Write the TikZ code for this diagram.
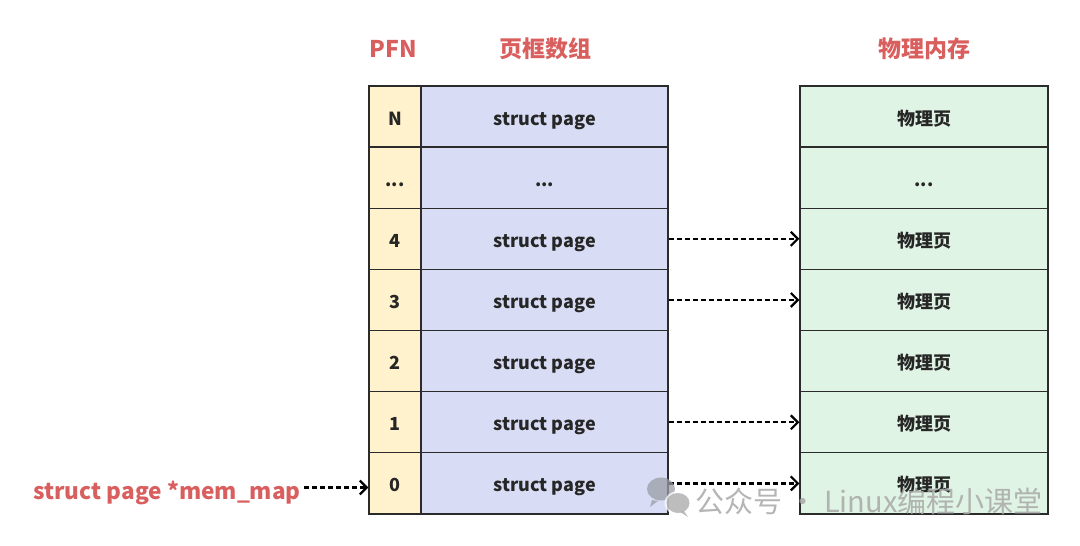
\documentclass[tikz,border=0pt]{standalone}
\usepackage{fontspec}
\setmainfont{Noto Sans CJK SC}
\usetikzlibrary{arrows.meta}
\definecolor{titlered}{HTML}{D95F5F}
\definecolor{pfnfill}{HTML}{FFF2CC}
\definecolor{pagefill}{HTML}{D8DDF5}
\definecolor{physfill}{HTML}{DFF4E4}
\definecolor{edge}{HTML}{2B2B2B}
\definecolor{wmgray}{HTML}{A8A8A8}
\definecolor{wmdark}{HTML}{9A9CA6}
\newcommand{\myellip}{...}
\tikzset{
  cell/.style={draw=edge, line width=1.3pt, minimum height=61.14pt, inner sep=0pt, text height=17pt, text depth=0pt, font=\fontsize{18}{20}\selectfont\bfseries, text=black!85},
  pfncell/.style={cell, fill=pfnfill, minimum width=52pt},
  pagecell/.style={cell, fill=pagefill, minimum width=247pt},
  physcell/.style={cell, fill=physfill, minimum width=248pt},
  title/.style={font=\fontsize{23}{26}\selectfont\bfseries, text=titlered, anchor=base},
  ptr/.style={line width=2.4pt, dash pattern=on 5pt off 3pt, -{Straight Barb[length=7pt,width=14pt,line width=2.2pt]}}
}
\begin{document}
\begin{tikzpicture}[x=1pt,y=-1pt]
\useasboundingbox (0,0) rectangle (1080,546);
% titles
\node[title] (tpfn) at (393,57) {PFN};
\node[title] (tarr) at (545,57) {页框数组};
\node[title] (tmem) at (924,57) {物理内存};
% rows
\foreach \i/\lab/\plab/\glab in {0/N/物理页/struct page, 1/\myellip/\myellip/\myellip, 2/4/物理页/struct page, 3/3/物理页/struct page, 4/2/物理页/struct page, 5/1/物理页/struct page, 6/0/物理页/struct page}{
  \pgfmathsetmacro{\yy}{86+61.14*(\i+0.5)}
  \node[pfncell] (pfn\i) at (395,\yy) {\lab};
  \node[pagecell] (pg\i) at (544.5,\yy) {\glab};
  \node[physcell] (ph\i) at (924,\yy) {\plab};
}
% mappings
\foreach \i in {2,3,5,6}{
  \draw[ptr] (pg\i.east) -- (ph\i.west);
}
% mem_map pointer
\node[font=\fontsize{22.6}{26}\selectfont\bfseries, text=titlered, anchor=base east, text height=23pt, text depth=0pt, inner xsep=3pt] (memmap) at (304,499) {struct page *mem\_map};
\draw[ptr] (memmap.east) -- (memmap.east -| pfn6.west);
% watermark
\begin{scope}[opacity=0.75]
  \fill[wmdark] (661,489) ellipse [x radius=14pt, y radius=11.5pt];
  \fill[wmdark] (652,500) -- (650,507) -- (658,501) -- cycle;
  \fill[white] (678,503) ellipse [x radius=13.5pt, y radius=12pt];
  \fill[wmgray] (678,503) ellipse [x radius=11.5pt, y radius=10pt];
  \fill[wmgray] (684,511) -- (688,517) -- (680,512) -- cycle;
\end{scope}
\node[font=\fontsize{29}{32}\selectfont, text=wmgray, opacity=0.85, anchor=base west, inner sep=0pt] (wm) at (695,512) {公众号 · Linux编程小课堂};
\end{tikzpicture}
\end{document}
